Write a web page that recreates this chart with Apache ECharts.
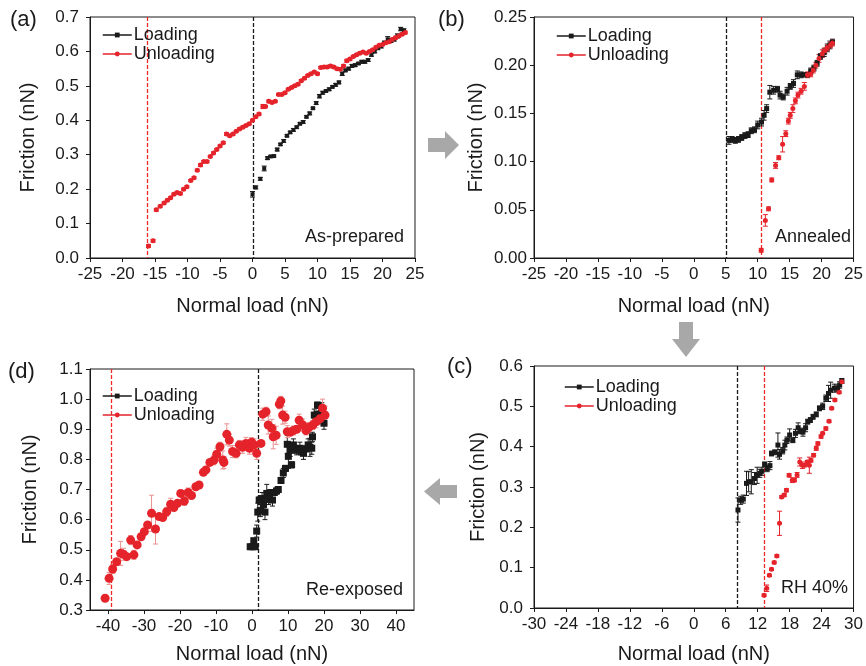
<!DOCTYPE html>
<html>
<head>
<meta charset="utf-8">
<script src="https://cdn.jsdelivr.net/npm/echarts@6/dist/echarts.min.js"></script>
<style>
  html, body { margin: 0; padding: 0; background: #fff; }
  #chart { width: 866px; height: 666px; }
</style>
</head>
<body>
<div id="chart"></div>
<script>
// [normal load (nN), friction (nN), error (nN)]
const loadA = [[0,0.185,0.008],[0.5,0.205,0.004],[1.2,0.23,0.004],[1.8,0.26,0.007],[2.3,0.29,0.004],[2.8,0.295,0.003],[3.3,0.296,0.003],[3.8,0.315,0.004],[4.3,0.33,0.003],[4.8,0.34,0.004],[5.3,0.355,0.003],[5.8,0.365,0.003],[6.3,0.372,0.004],[6.8,0.38,0.003],[7.3,0.39,0.003],[7.8,0.395,0.004],[8.3,0.41,0.003],[8.8,0.42,0.004],[9.3,0.435,0.003],[9.8,0.45,0.004],[10.3,0.47,0.005],[10.8,0.48,0.004],[11.3,0.485,0.003],[11.8,0.49,0.004],[12.3,0.497,0.003],[12.8,0.503,0.004],[13.3,0.51,0.004],[13.8,0.535,0.005],[14.3,0.545,0.004],[14.8,0.55,0.004],[15.3,0.558,0.004],[15.8,0.56,0.004],[16.3,0.565,0.003],[16.8,0.57,0.004],[17.3,0.57,0.004],[17.8,0.575,0.004],[18.3,0.59,0.004],[18.8,0.6,0.004],[19.3,0.61,0.005],[19.8,0.615,0.005],[20.3,0.625,0.005],[20.8,0.635,0.008],[21.3,0.632,0.006],[21.8,0.635,0.005],[22.3,0.645,0.006],[22.8,0.665,0.005],[23.3,0.66,0.006]];
const unloadA = [[-16.0,0.035,0.004],[-15.3,0.05,0.004],[-14.8,0.14,0.004],[-14.2,0.15,0.003],[-13.6,0.16,0.003],[-13.1,0.168,0.003],[-12.6,0.175,0.003],[-12.1,0.185,0.003],[-11.6,0.19,0.003],[-11.1,0.187,0.003],[-10.6,0.2,0.003],[-10.1,0.207,0.003],[-9.5,0.225,0.003],[-9.0,0.233,0.003],[-8.5,0.255,0.003],[-8.0,0.27,0.004],[-7.5,0.28,0.003],[-7.0,0.28,0.003],[-6.5,0.295,0.003],[-6.0,0.305,0.003],[-5.5,0.315,0.003],[-5.0,0.325,0.003],[-4.5,0.335,0.003],[-4.0,0.36,0.004],[-3.5,0.355,0.003],[-3.0,0.36,0.003],[-2.5,0.368,0.003],[-2.0,0.375,0.003],[-1.5,0.38,0.003],[-1.0,0.385,0.003],[-0.5,0.39,0.003],[0,0.4,0.003],[0.5,0.41,0.003],[1.0,0.418,0.003],[1.6,0.44,0.006],[2.0,0.44,0.003],[2.5,0.455,0.004],[3.0,0.452,0.003],[3.5,0.455,0.003],[4.0,0.475,0.003],[4.5,0.475,0.003],[5.0,0.48,0.003],[5.5,0.49,0.003],[6.0,0.495,0.003],[6.5,0.5,0.003],[7.0,0.505,0.003],[7.5,0.515,0.003],[8.0,0.522,0.003],[8.5,0.53,0.003],[9.0,0.535,0.003],[9.5,0.54,0.003],[10.0,0.535,0.003],[10.5,0.553,0.003],[11.0,0.555,0.003],[11.5,0.555,0.003],[12.0,0.558,0.003],[12.5,0.555,0.003],[13.0,0.55,0.003],[13.5,0.548,0.003],[14.0,0.558,0.003],[14.5,0.573,0.004],[15.0,0.578,0.003],[15.5,0.585,0.003],[16.0,0.59,0.003],[16.5,0.595,0.003],[17.0,0.598,0.003],[17.5,0.595,0.003],[18.0,0.6,0.003],[18.5,0.605,0.003],[19.0,0.612,0.003],[19.5,0.618,0.003],[20.0,0.62,0.003],[20.5,0.625,0.003],[21.0,0.628,0.004],[21.5,0.635,0.003],[22.0,0.64,0.004],[22.5,0.645,0.004],[23.0,0.65,0.004],[23.5,0.655,0.004]];

const loadB = [[5.5,0.122,0.004],[6.0,0.123,0.003],[6.5,0.122,0.003],[7.0,0.123,0.003],[7.5,0.125,0.003],[8.0,0.127,0.003],[8.5,0.128,0.003],[9.0,0.132,0.003],[9.5,0.133,0.003],[10.0,0.138,0.004],[10.6,0.141,0.004],[11.0,0.148,0.005],[11.4,0.155,0.004],[11.9,0.172,0.007],[12.5,0.174,0.004],[13.1,0.175,0.003],[13.5,0.169,0.004],[14.0,0.167,0.003],[14.6,0.173,0.004],[15.1,0.178,0.003],[15.6,0.181,0.004],[16.2,0.19,0.004],[16.8,0.19,0.003],[17.3,0.19,0.002],[17.8,0.19,0.002],[18.3,0.194,0.003],[18.8,0.197,0.003],[19.3,0.202,0.003],[19.8,0.209,0.003],[20.4,0.213,0.004],[20.9,0.218,0.004],[21.3,0.221,0.004],[21.7,0.224,0.003]];
const unloadB = [[10.55,0.008,0.002],[11.2,0.039,0.006],[11.7,0.051,0.002],[12.2,0.081,0.002],[12.8,0.096,0.003],[13.3,0.104,0.002],[13.9,0.118,0.008],[14.4,0.129,0.003],[14.8,0.142,0.003],[15.1,0.148,0.003],[15.5,0.155,0.004],[15.9,0.163,0.003],[16.3,0.169,0.003],[16.8,0.173,0.003],[17.3,0.178,0.004],[17.8,0.19,0.003],[18.3,0.191,0.003],[18.7,0.195,0.003],[19.1,0.2,0.003],[19.6,0.207,0.004],[20.1,0.212,0.004],[20.5,0.215,0.003],[20.9,0.218,0.003],[21.4,0.221,0.003],[21.7,0.223,0.003]];

const loadC = [[8.3,0.243,0.03],[8.8,0.267,0.01],[9.3,0.27,0.01],[9.9,0.309,0.03],[10.3,0.313,0.025],[10.8,0.313,0.03],[11.4,0.321,0.015],[11.9,0.329,0.02],[12.4,0.334,0.01],[12.8,0.339,0.01],[13.3,0.356,0.006],[13.8,0.346,0.008],[14.3,0.353,0.01],[14.6,0.383,0.006],[15.2,0.386,0.006],[15.8,0.404,0.03],[16.1,0.381,0.012],[16.7,0.39,0.008],[17.1,0.404,0.012],[17.5,0.416,0.008],[18.0,0.429,0.015],[18.6,0.416,0.006],[19.1,0.433,0.01],[19.6,0.447,0.012],[20.0,0.438,0.006],[20.5,0.436,0.01],[21.0,0.447,0.01],[21.4,0.462,0.006],[21.9,0.466,0.006],[22.4,0.474,0.006],[23.0,0.48,0.006],[23.6,0.495,0.006],[24.2,0.5,0.008],[24.8,0.52,0.008],[25.3,0.532,0.02],[25.7,0.54,0.02],[26.4,0.545,0.01],[27.0,0.545,0.008],[27.4,0.553,0.008],[27.8,0.563,0.006]];
const unloadC = [[13.2,0.0315,0.003],[13.7,0.049,0.008],[14.2,0.081,0.003],[14.6,0.096,0.003],[15.1,0.113,0.003],[15.6,0.129,0.003],[16.1,0.21,0.03],[16.5,0.2755,0.003],[17.0,0.28,0.004],[17.4,0.292,0.004],[17.9,0.329,0.004],[18.5,0.317,0.006],[18.9,0.317,0.004],[19.4,0.33,0.006],[19.9,0.362,0.01],[20.4,0.354,0.008],[20.8,0.354,0.004],[21.3,0.362,0.004],[21.7,0.354,0.02],[22.0,0.366,0.004],[22.5,0.379,0.004],[23.0,0.396,0.005],[23.3,0.408,0.004],[23.9,0.425,0.004],[24.2,0.433,0.003],[24.8,0.445,0.004],[25.4,0.463,0.003],[25.9,0.495,0.003],[26.5,0.516,0.003],[27.3,0.535,0.003],[27.8,0.561,0.004]];

const loadD = [[-0.5,0.51,0.008],[0.1,0.51,0.008],[0.5,0.53,0.008],[0.9,0.51,0.006],[1.3,0.562,0.02],[1.6,0.625,0.03],[2.0,0.665,0.01],[2.3,0.63,0.02],[2.8,0.67,0.02],[3.2,0.65,0.02],[3.6,0.625,0.025],[4.1,0.687,0.03],[4.6,0.67,0.02],[5.2,0.69,0.01],[5.7,0.665,0.02],[6.2,0.69,0.01],[6.8,0.695,0.01],[7.3,0.70,0.01],[8.06,0.73,0.01],[8.7,0.755,0.015],[9.3,0.77,0.01],[9.8,0.85,0.03],[10.1,0.81,0.04],[10.6,0.83,0.02],[11.0,0.782,0.01],[11.5,0.848,0.02],[12.4,0.83,0.015],[13.3,0.837,0.02],[13.8,0.825,0.01],[14.3,0.82,0.02],[15.0,0.835,0.01],[15.6,0.848,0.02],[16.1,0.84,0.03],[16.6,0.837,0.02],[16.8,0.875,0.015],[17.3,0.947,0.02],[17.8,0.945,0.015],[18.2,0.98,0.01],[18.6,0.95,0.02],[19.0,0.94,0.02],[19.4,0.958,0.03],[20.0,0.92,0.02]];
const unloadD = [[-40.8,0.339,0.005],[-39.7,0.405,0.02],[-38.7,0.436,0.015],[-37.6,0.46,0.01],[-36.5,0.488,0.04],[-35.7,0.485,0.02],[-34.8,0.477,0.01],[-33.7,0.532,0.015],[-32.8,0.483,0.015],[-31.9,0.516,0.01],[-30.8,0.543,0.01],[-29.9,0.56,0.01],[-29.0,0.582,0.01],[-27.9,0.621,0.06],[-26.8,0.569,0.05],[-25.8,0.61,0.01],[-24.8,0.607,0.01],[-23.7,0.626,0.015],[-22.6,0.651,0.02],[-21.7,0.64,0.01],[-20.7,0.654,0.01],[-19.8,0.687,0.01],[-18.8,0.662,0.015],[-17.7,0.69,0.015],[-16.8,0.68,0.01],[-15.6,0.709,0.01],[-14.7,0.715,0.01],[-13.5,0.757,0.01],[-12.8,0.765,0.01],[-11.7,0.79,0.01],[-10.6,0.797,0.015],[-9.8,0.817,0.02],[-8.9,0.842,0.015],[-8.1,0.798,0.03],[-7.8,0.79,0.02],[-7.0,0.883,0.035],[-6.3,0.864,0.02],[-5.4,0.826,0.02],[-4.4,0.82,0.015],[-3.5,0.848,0.015],[-2.6,0.84,0.02],[-1.7,0.853,0.02],[-0.7,0.837,0.02],[-0.1,0.857,0.015],[0.6,0.848,0.02],[1.3,0.82,0.02],[2.5,0.853,0.01],[3.0,0.95,0.02],[3.9,0.958,0.015],[4.5,0.914,0.03],[5.5,0.903,0.03],[5.9,0.875,0.04],[6.7,0.88,0.03],[7.6,0.983,0.015],[8.0,0.994,0.015],[8.5,0.947,0.03],[9.2,0.94,0.02],[9.8,0.892,0.02],[10.6,0.89,0.01],[11.5,0.896,0.015],[12.4,0.9,0.01],[13.1,0.93,0.02],[14.1,0.914,0.02],[15.0,0.896,0.015],[15.9,0.907,0.015],[16.9,0.914,0.015],[17.8,0.925,0.02],[18.9,0.935,0.02],[19.6,0.97,0.03],[20.3,0.947,0.03]];

// contact points (dashed lines): [loading start, unloading pull-off]
const contactA = [0, -16.2];
const contactB = [5, 10.55];
const contactC = [8.2, 13.2];
const contactD = [1.75, -39.2];

const ticksDX = [-40, -30, -20, -10, 0, 10, 20, 30, 40];
const panelLabels = ['(a)', '(b)', '(c)', '(d)'];
const notes = ['As-prepared', 'Annealed', 'RH 40%', 'Re-exposed'];

const FONT = 'Liberation Sans, Arial, sans-serif';
const INK = '#1a1a1a';
const RED = '#e5232b';

const myChart = echarts.init(document.getElementById('chart'));

const grids = [
  { left: 90, top: 17, width: 325, height: 241 },   // a
  { left: 534, top: 17, width: 324, height: 241 },  // b
  { left: 534, top: 366, width: 324, height: 242 }, // c
  { left: 90, top: 369, width: 324, height: 241 }   // d
].map(g => Object.assign({ show: true, borderColor: INK, borderWidth: 1, backgroundColor: 'transparent' }, g));

const xAxisBase = (i, min, max, interval, gap) => ({
  type: 'value', gridIndex: i, min, max, interval,
  name: 'Normal load (nN)', nameLocation: 'middle', nameGap: gap,
  nameTextStyle: { fontSize: 20, color: INK, fontFamily: FONT },
  axisLine: { show: true, onZero: false, lineStyle: { color: INK, width: 1 } },
  axisTick: { show: true, length: 4, lineStyle: { color: INK } },
  axisLabel: { color: INK, fontSize: 17, fontFamily: FONT, margin: 8, showMinLabel: true, showMaxLabel: true },
  splitLine: { show: false }
});

const yAxisBase = (i, min, max, interval, gap, digits, margin) => ({
  type: 'value', gridIndex: i, min, max, interval,
  name: 'Friction (nN)', nameLocation: 'middle', nameGap: gap,
  nameTextStyle: { fontSize: 20, color: INK, fontFamily: FONT },
  axisLine: { show: true, onZero: false, lineStyle: { color: INK, width: 1 } },
  axisTick: { show: true, length: 4, lineStyle: { color: INK } },
  axisLabel: { color: INK, fontSize: 17, fontFamily: FONT, margin, showMinLabel: true, showMaxLabel: true,
    formatter: v => v.toFixed(digits) },
  splitLine: { show: false }
});

const xAxes = [
  xAxisBase(0, -25, 25, 5, 38),
  xAxisBase(1, -25, 25, 5, 38),
  xAxisBase(2, -30, 30, 6, 36),
  xAxisBase(3, -45, 45, 5, 34)
];
// panel d: labelled every 10 nN, axis spans -45..45
xAxes[3].axisTick.customValues = ticksDX;
xAxes[3].axisLabel.customValues = ticksDX;

const yAxes = [
  yAxisBase(0, 0, 0.7, 0.1, 52, 1, 11),
  yAxisBase(1, 0, 0.25, 0.05, 48, 2, 7),
  yAxisBase(2, 0, 0.6, 0.1, 46, 1, 11),
  yAxisBase(3, 0.3, 1.1, 0.1, 50, 1, 7)
];

function errSeries(i, data, color, cap) {
  return {
    type: 'custom', name: 'err' + i + color, xAxisIndex: i, yAxisIndex: i, data,
    encode: { x: 0, y: 1 }, silent: true, z: 2, clip: true,
    renderItem: (params, api) => {
      const x = api.value(0), y = api.value(1), e = api.value(2);
      const t = api.coord([x, y + e]);
      const b = api.coord([x, y - e]);
      const st = { stroke: color, lineWidth: 1 };
      return {
        type: 'group',
        children: [
          { type: 'line', shape: { x1: t[0], y1: t[1], x2: b[0], y2: b[1] }, style: st },
          { type: 'line', shape: { x1: t[0] - cap, y1: t[1], x2: t[0] + cap, y2: t[1] }, style: st },
          { type: 'line', shape: { x1: b[0] - cap, y1: b[1], x2: b[0] + cap, y2: b[1] }, style: st }
        ]
      };
    }
  };
}

// vertical dashed contact line spanning the whole plot height
function vlineSeries(i, xVal, color) {
  return {
    type: 'custom', name: 'vline' + i + color, xAxisIndex: i, yAxisIndex: i,
    data: [[xVal, 0]], encode: { x: 0 }, silent: true, z: 1, clip: true,
    renderItem: (params, api) => {
      const cs = params.coordSys;
      const px = Math.round(api.coord([api.value(0), yAxes[i].min])[0]) + 0.5;
      return {
        type: 'line',
        shape: { x1: px, y1: cs.y, x2: px, y2: cs.y + cs.height },
        style: { stroke: color, lineWidth: 1.3, lineDash: [4, 2] }
      };
    }
  };
}

function pointSeries(i, name, data, color, symbol, size) {
  return {
    type: 'line', name, xAxisIndex: i, yAxisIndex: i,
    data: data.map(p => [p[0], p[1]]),
    symbol, symbolSize: size, showAllSymbol: true, z: 3,
    lineStyle: { width: 0, color },
    itemStyle: { color, borderWidth: 0 }
  };
}

const sets = [
  [loadA, unloadA, contactA, 4, 5, INK, RED],
  [loadB, unloadB, contactB, 5, 5, INK, RED],
  [loadC, unloadC, contactC, 5, 5, INK, RED],
  [loadD, unloadD, contactD, 7, 9, INK, '#e8908f']
];
const series = [];
sets.forEach((s, i) => {
  series.push(vlineSeries(i, s[2][0], INK));
  series.push(vlineSeries(i, s[2][1], '#f02828'));
  series.push(errSeries(i, s[0], s[5], 2.5));
  series.push(errSeries(i, s[1], s[6], 2.5));
  series.push(pointSeries(i, 'Loading', s[0], INK, 'rect', s[3]));
  series.push(pointSeries(i, 'Unloading', s[1], RED, 'circle', s[4]));
});

const legendPos = [[97, 21], [551, 22], [559, 373], [97, 382]];
const legends = legendPos.map(p => ({
  left: p[0], top: p[1], orient: 'vertical', itemWidth: 29, itemHeight: 6, itemGap: 1,
  selectedMode: false, data: ['Loading', 'Unloading'],
  lineStyle: { width: 1.5 },
  textStyle: { fontSize: 18, color: INK, fontFamily: FONT, padding: [0, 0, 0, -3] }
}));

const labelPos = [[10, 20], [438, 20], [447, 367], [8, 372]];
const notePos = [[404, 237], [851, 237], [848, 588], [403, 590]];
const graphics = [];
labelPos.forEach((p, i) => graphics.push({
  type: 'text', x: p[0], y: p[1],
  style: { text: panelLabels[i], fontSize: 22, fill: INK, fontFamily: FONT, verticalAlign: 'middle' }
}));
notePos.forEach((p, i) => graphics.push({
  type: 'text', x: p[0], y: p[1],
  style: { text: notes[i], fontSize: 18, fill: INK, fontFamily: FONT, align: 'right', verticalAlign: 'middle' }
}));
// grey arrows between panels
const GREY = '#a8a8a8';
[
  [[428,138],[445,138],[445,131],[459,145],[445,159],[445,152],[428,152]],
  [[679,322],[693,322],[693,339],[700,339],[686,357],[672,339],[679,339]],
  [[457,485],[440,485],[440,478],[424,491.5],[440,505],[440,498],[457,498]]
].forEach(pts => graphics.push({ type: 'polygon', shape: { points: pts }, style: { fill: GREY } }));

const options = {
  animation: false,
  backgroundColor: '#fff',
  textStyle: { fontFamily: FONT },
  grid: grids,
  xAxis: xAxes,
  yAxis: yAxes,
  legend: legends,
  graphic: graphics,
  series
};

myChart.setOption(options);
</script>
</body>
</html>
